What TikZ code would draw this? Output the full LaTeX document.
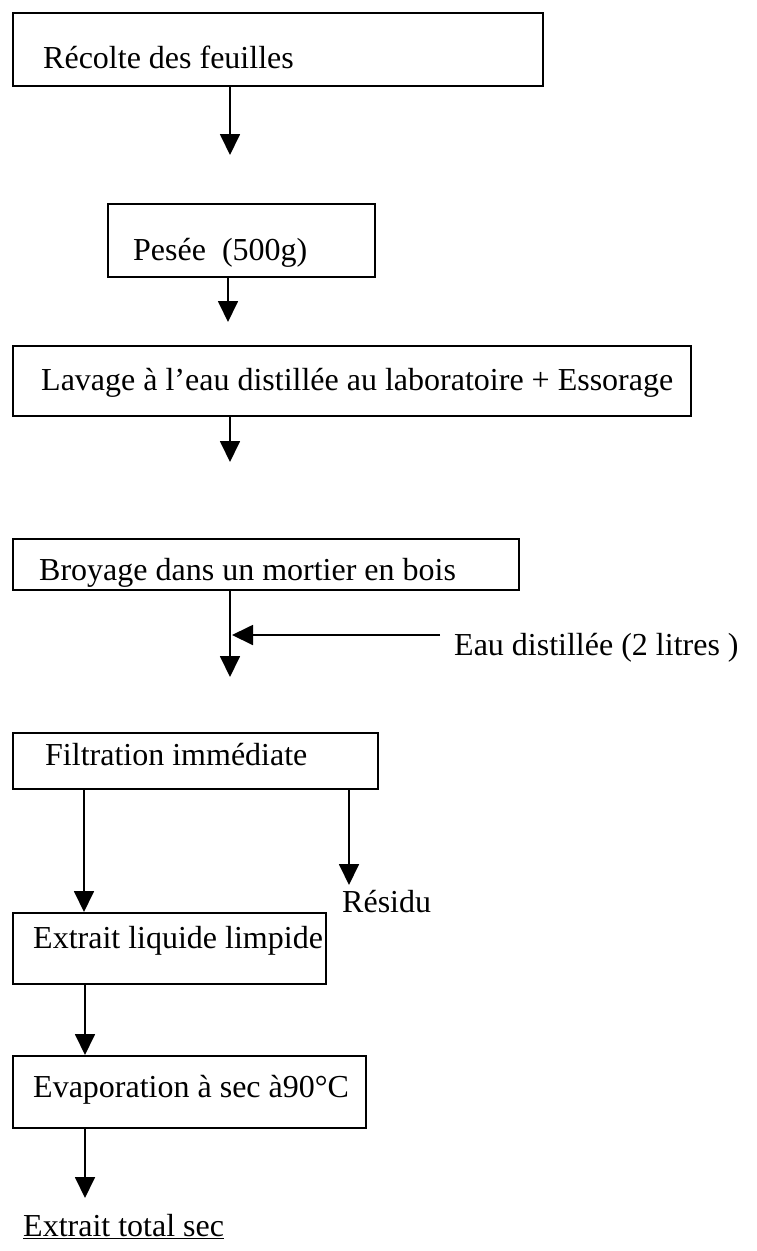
\documentclass[tikz,border=0pt]{standalone}
\usepackage{fontspec}
\setmainfont{Liberation Serif}
\usetikzlibrary{arrows.meta}
\begin{document}
\begin{tikzpicture}[x=1pt,y=-1pt,
  box/.style={draw, line width=1.8pt, inner sep=0pt, anchor=north west},
  lbl/.style={anchor=base west, inner sep=0pt, font=\fontsize{32}{38}\selectfont},
  arr/.style={line width=1.8pt, -{Triangle[width=20pt,length=21pt]}}]
\useasboundingbox (0,0) rectangle (756,1251);
% boxes
\node[box, minimum width=530pt, minimum height=73pt] (b1) at (12,12) {};
\node[box, minimum width=267pt, minimum height=73pt] (b2) at (107,203) {};
\node[box, minimum width=678pt, minimum height=70pt] (b3) at (12,345) {};
\node[box, minimum width=506pt, minimum height=51pt] (b4) at (12,538) {};
\node[box, minimum width=365pt, minimum height=56pt] (b5) at (12,732) {};
\node[box, minimum width=313pt, minimum height=71pt] (b6) at (12,912) {};
\node[box, minimum width=353pt, minimum height=72pt] (b7) at (12,1055) {};
% texts
\node[lbl] (t1) at (43,68) {Récolte des feuilles};
\node[lbl] (t2) at (133,260) {Pesée\ \ (500g)};
\node[lbl] (t3) at (41,390) {Lavage à l’eau distillée au laboratoire + Essorage};
\node[lbl] (t4) at (39,580) {Broyage dans un mortier en bois};
\node[lbl] (eau) at (454,655) {Eau distillée (2 litres )};
\node[lbl] (t5) at (45,765) {Filtration immédiate};
\node[lbl] (res) at (342,912) {Résidu};
\node[lbl] (t6) at (33,948) {Extrait liquide limpide};
\node[lbl] (t7) at (33,1097) {Evaporation à sec à90°C};
\node[lbl] (t8) at (23,1236) {\underline{Extrait total sec}};
% arrow tips and free ends
\coordinate (p1) at (230,155);
\coordinate (p2) at (228,322);
\coordinate (p3) at (230,462);
\coordinate (p4) at (230,677);
\coordinate (e0) at (440,635);
\coordinate (e1) at (232,635);
\coordinate (pr) at (349,885);
\coordinate (p7) at (85,1198);
% connectors
\draw[arr] (b1.south -| p1) -- (p1);
\draw[arr] (b2.south -| p2) -- (p2);
\draw[arr] (b3.south -| p3) -- (p3);
\draw[arr] (b4.south -| p4) -- (p4);
\draw[arr] (e0) -- (e1);
\draw[arr] ([xshift=72pt]b5.south west) -- ([xshift=72pt]b6.north west);
\draw[arr] (b5.south -| pr) -- (pr);
\draw[arr] ([xshift=73pt]b6.south west) -- ([xshift=73pt]b7.north west);
\draw[arr] (b7.south -| p7) -- (p7);
\end{tikzpicture}
\end{document}
